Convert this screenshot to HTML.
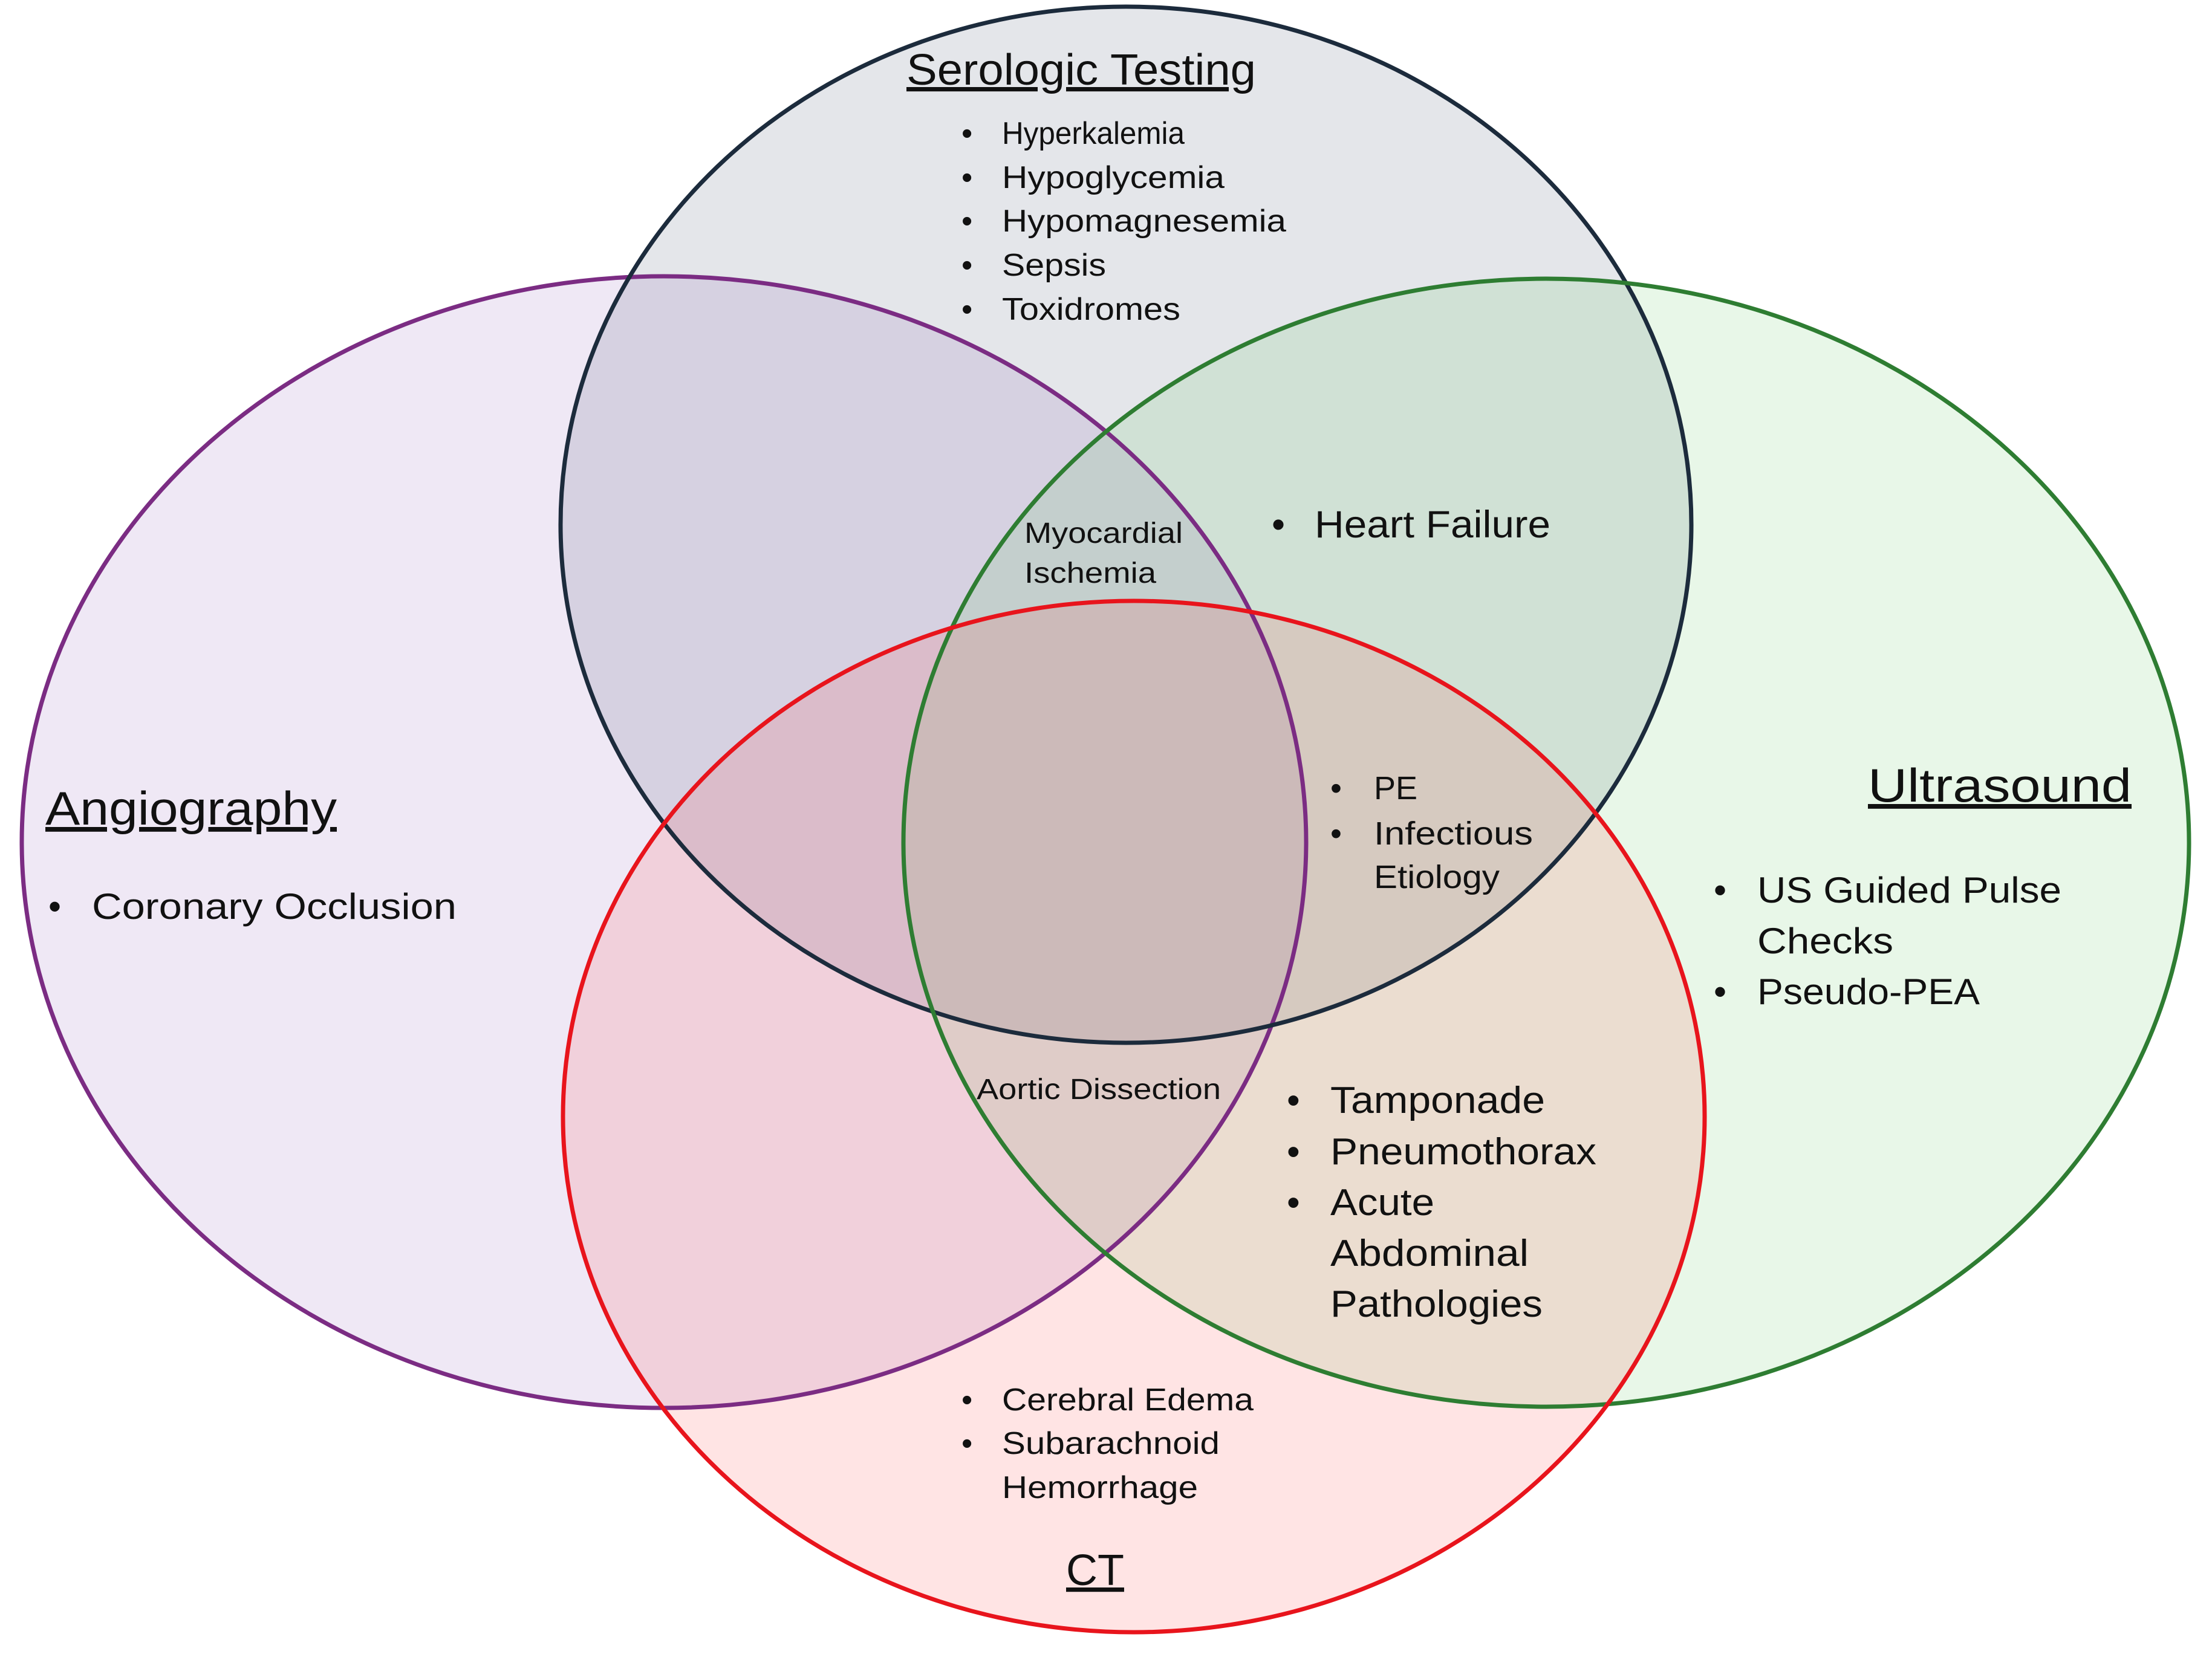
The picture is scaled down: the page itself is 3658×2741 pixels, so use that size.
<!DOCTYPE html>
<html><head><meta charset="utf-8"><style>
html,body{margin:0;padding:0;background:#fff;}
svg{display:block;}
text{font-family:"Liberation Sans",sans-serif;fill:#111;}
</style></head><body>
<svg width="3658" height="2741" viewBox="0 0 3658 2741" xmlns="http://www.w3.org/2000/svg">
<rect width="3658" height="2741" fill="#fff"/>
<g stroke-width="7">
<ellipse cx="1098" cy="1393" rx="1062" ry="936" fill="#7030a0" fill-opacity="0.11" stroke="none"/>
<ellipse cx="1862" cy="868" rx="935" ry="857" fill="#1e3250" fill-opacity="0.12" stroke="none"/>
<ellipse cx="2557" cy="1394" rx="1063" ry="933" fill="#4cc04c" fill-opacity="0.13" stroke="none"/>
<ellipse cx="1875" cy="1847" rx="944" ry="853" fill="#ff4040" fill-opacity="0.14" stroke="none"/>
<ellipse cx="1098" cy="1393" rx="1062" ry="936" fill="none" stroke="#7b2c83"/>
<ellipse cx="1862" cy="868" rx="935" ry="857" fill="none" stroke="#1c2b3c"/>
<ellipse cx="2557" cy="1394" rx="1063" ry="933" fill="none" stroke="#2e7d32"/>
<ellipse cx="1875" cy="1847" rx="944" ry="853" fill="none" stroke="#e8141c"/>
</g>

<text x="1788" y="140" font-size="72" text-anchor="middle" text-decoration="underline" textLength="578" lengthAdjust="spacingAndGlyphs">Serologic Testing</text>
<g font-size="52">
<text x="1590" y="238">•</text><text x="1657" y="238" textLength="302" lengthAdjust="spacingAndGlyphs">Hyperkalemia</text>
<text x="1590" y="311">•</text><text x="1657" y="311" textLength="368" lengthAdjust="spacingAndGlyphs">Hypoglycemia</text>
<text x="1590" y="383">•</text><text x="1657" y="383" textLength="470" lengthAdjust="spacingAndGlyphs">Hypomagnesemia</text>
<text x="1590" y="456">•</text><text x="1657" y="456" textLength="172" lengthAdjust="spacingAndGlyphs">Sepsis</text>
<text x="1590" y="529">•</text><text x="1657" y="529" textLength="295" lengthAdjust="spacingAndGlyphs">Toxidromes</text>
</g>

<text x="75" y="1364" font-size="78" text-decoration="underline" textLength="482" lengthAdjust="spacingAndGlyphs">Angiography</text>
<text x="80" y="1520" font-size="60">•</text><text x="152" y="1520" font-size="60" textLength="603" lengthAdjust="spacingAndGlyphs">Coronary Occlusion</text>

<text x="1694" y="898" font-size="48" textLength="262" lengthAdjust="spacingAndGlyphs">Myocardial</text>
<text x="1694" y="964" font-size="48" textLength="218" lengthAdjust="spacingAndGlyphs">Ischemia</text>

<text x="2103" y="889" font-size="63">•</text><text x="2174" y="889" font-size="63" textLength="390" lengthAdjust="spacingAndGlyphs">Heart Failure</text>

<g font-size="54">
<text x="2200" y="1322">•</text><text x="2272" y="1322">PE</text>
<text x="2200" y="1397">•</text><text x="2272" y="1397" textLength="263" lengthAdjust="spacingAndGlyphs">Infectious</text>
<text x="2272" y="1469" textLength="208" lengthAdjust="spacingAndGlyphs">Etiology</text>
</g>

<text x="3089" y="1326" font-size="78" text-decoration="underline" textLength="436" lengthAdjust="spacingAndGlyphs">Ultrasound</text>
<g font-size="60">
<text x="2834" y="1493">•</text><text x="2906" y="1493" textLength="503" lengthAdjust="spacingAndGlyphs">US Guided Pulse</text>
<text x="2906" y="1577" textLength="225" lengthAdjust="spacingAndGlyphs">Checks</text>
<text x="2834" y="1661">•</text><text x="2906" y="1661" textLength="368" lengthAdjust="spacingAndGlyphs">Pseudo-PEA</text>
</g>

<text x="1615" y="1818" font-size="48" textLength="404" lengthAdjust="spacingAndGlyphs">Aortic Dissection</text>

<g font-size="62">
<text x="2128" y="1841">•</text><text x="2200" y="1841" textLength="355" lengthAdjust="spacingAndGlyphs">Tamponade</text>
<text x="2128" y="1926">•</text><text x="2200" y="1926" textLength="440" lengthAdjust="spacingAndGlyphs">Pneumothorax</text>
<text x="2128" y="2010">•</text><text x="2200" y="2010" textLength="172" lengthAdjust="spacingAndGlyphs">Acute</text>
<text x="2200" y="2094" textLength="328" lengthAdjust="spacingAndGlyphs">Abdominal</text>
<text x="2200" y="2178" textLength="351" lengthAdjust="spacingAndGlyphs">Pathologies</text>
</g>

<g font-size="52">
<text x="1590" y="2333">•</text><text x="1657" y="2333" textLength="416" lengthAdjust="spacingAndGlyphs">Cerebral Edema</text>
<text x="1590" y="2405">•</text><text x="1657" y="2405" textLength="360" lengthAdjust="spacingAndGlyphs">Subarachnoid</text>
<text x="1657" y="2478" textLength="324" lengthAdjust="spacingAndGlyphs">Hemorrhage</text>
</g>

<text x="1811" y="2622" font-size="72" text-anchor="middle" text-decoration="underline">CT</text>
</svg>
</body></html>
